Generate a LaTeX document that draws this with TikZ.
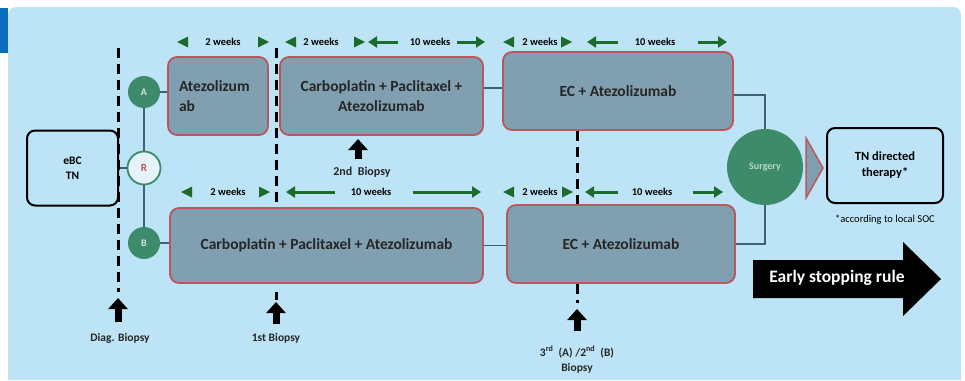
\documentclass[tikz,border=0pt]{standalone}
\usepackage{fontspec}
\setmainfont{Carlito}
\usetikzlibrary{arrows.meta,calc}
\definecolor{bgblue}{HTML}{BDE4F6}
\definecolor{tabblue}{HTML}{0B6DC1}
\definecolor{boxfill}{HTML}{809FB0}
\definecolor{boxborder}{HTML}{B9575A}
\definecolor{arrgreen}{HTML}{1D6B2C}
\definecolor{circgreen}{HTML}{3E8B6C}
\definecolor{linecol}{HTML}{3F6075}
\definecolor{surgtext}{HTML}{B5D9C6}
\newcommand\ltri[2]{\fill[arrgreen] (#1,#2) -- ++(11,-5.5) -- ++(0,11) -- cycle;}
\newcommand\rtri[2]{\fill[arrgreen] (#1,#2) -- ++(-11,-5.5) -- ++(0,11) -- cycle;}
\begin{document}
\begin{tikzpicture}[x=1pt,y=-1pt,
  treat/.style={draw=boxborder, line width=1.8pt, fill=boxfill, rounded corners=9pt,
    font=\bfseries\fontsize{15.5}{20}\selectfont, text=black!85, align=center, inner sep=0pt},
  plain/.style={draw=black, line width=2pt, fill=bgblue, rounded corners=8pt,
    font=\bfseries\fontsize{11.5}{15}\selectfont, align=center, inner sep=0pt},
  armdot/.style={circle, fill=circgreen, minimum size=32pt, inner sep=0pt,
    text=surgtext!60!white, font=\bfseries\fontsize{10}{11}\selectfont},
  conn/.style={draw=linecol, line width=1.6pt},
  dashline/.style={draw=black, line width=3pt, dash pattern=on 10pt off 6pt},
  uparr/.style={draw=black, line width=7pt, -{Triangle[length=11pt,width=19pt]}},
  wk/.style={font=\bfseries\fontsize{10.5}{12}\selectfont, inner sep=0pt},
  wkarr/.style={draw=arrgreen, line width=3pt, -{Triangle[length=9pt,width=11pt]}},
  lbl/.style={font=\bfseries\fontsize{11.5}{13}\selectfont, text=black!85, align=center, inner sep=0pt}
]
\useasboundingbox (0,0) rectangle (965,380);
\fill[white] (0,0) rectangle (965,380);
\fill[bgblue] (8,380) [rounded corners=8pt]-- (8,7) -- (961,7) [sharp corners]-- (961,380) -- cycle;
\fill[tabblue] (0,8) rectangle (8,53);

% dashed timeline lines
\coordinate (d1t) at (118,48);
\coordinate (d1b) at (118,292);
\coordinate (d2t) at (276,48);
\coordinate (d2m) at (276,207);
\coordinate (d2c) at (276,292);
\coordinate (d2d) at (276,300);

% boxes
\node[plain, minimum width=91pt, minimum height=75pt] (ebc) at (72.5,168) {eBC\\TN};
\node[armdot] (A) at (144,92) {A};
\node[circle, draw=circgreen, line width=1.8pt, fill=bgblue!40!white, minimum size=33pt, inner sep=0pt,
  text=boxborder, font=\bfseries\fontsize{11}{12}\selectfont] (R) at (144,168) {R};
\node[armdot] (B) at (144,243) {B};

\node[treat, minimum width=100pt, minimum height=78pt, text width=78pt, align=left] (atezo) at (218,96) {Atezolizum\\ab};
\node[treat, minimum width=203pt, minimum height=78pt] (carboTop) at (381.5,96) {Carboplatin + Paclitaxel +\\Atezolizumab};
\node[treat, minimum width=230pt, minimum height=78pt] (ecTop) at (618,91) {EC + Atezolizumab};
\node[treat, minimum width=313pt, minimum height=75pt] (carboBot) at (326.5,245.5) {Carboplatin + Paclitaxel + Atezolizumab};
\node[treat, minimum width=228pt, minimum height=78pt] (ecBot) at (621,244) {EC + Atezolizumab};

\node[circle, fill=circgreen, minimum size=76pt, inner sep=0pt, text=surgtext,
  font=\bfseries\fontsize{10}{11}\selectfont] (surg) at (765,167) {Surgery};
\filldraw[draw=boxborder, fill=boxfill, line width=1.5pt, line join=miter] (806,138) -- (823,168) -- (806,198) -- cycle;
\node[plain, minimum width=116pt, minimum height=75pt, font=\bfseries\fontsize{12.5}{16}\selectfont] (tn) at (885,165.5) {TN directed\\therapy*};
\node[font=\fontsize{10.5}{12}\selectfont, inner sep=0pt] (soc) at (885,220) {*according to local SOC};

% early stopping rule arrow
\fill[black] (753,260) -- (903,260) -- (903,242) -- (941,279) -- (903,316) -- (903,298) -- (753,298) -- cycle;
\node[text=white, font=\bfseries\fontsize{17.5}{19}\selectfont, inner sep=0pt] (esr) at (837,278) {Early stopping rule};

% connectors
\draw[conn] (ebc.east |- R.west) -- (R.west);
\draw[conn] (A) -- (R);
\draw[conn] (R) -- (B);
\draw[conn] (A.east) -- (A.east -| atezo.west);
\draw[conn] (B.east) -- (B.east -| carboBot.west);
\draw[conn] ($(ecTop.west -| carboTop.east)+(0,-3)$) -- ($(ecTop.west)+(0,-3)$);
\draw[conn] (carboBot.east) -- (carboBot.east -| ecBot.west);
\draw[conn] ([yshift=-4pt]ecTop.east) -| (surg.north);
\draw[conn] (ecBot.east) -| (surg.south);

% dashed lines
\draw[dashline] (d1t) -- (d1b);
\draw[dashline] (d2t) -- (d2m);
\draw[dashline] (d2c) -- (d2d);
\draw[dashline] (ecTop.south -| 577,0) -- (ecBot.north -| 577,0);
\draw[dashline] (ecBot.south -| 577,0) -- (577,303);

% biopsy arrows and labels
\draw[uparr] (118,322) -- (118,298);
\node[lbl] (diag) at (120,338) {Diag. Biopsy};
\draw[uparr] (276,324) -- (276,302);
\node[lbl] (b1) at (276,338) {1st Biopsy};
\draw[uparr] (358,159) -- (358,139);
\node[lbl, font=\bfseries\fontsize{12}{14}\selectfont] (b2) at (362,172) {2nd\ \ Biopsy};
\draw[uparr] (577,331) -- (577,309);
\node[lbl, font=\bfseries\fontsize{11.5}{13}\selectfont] (b3) at (577,352) {3\textsuperscript{rd}\ \ (A) /2\textsuperscript{nd}\ \ (B)};
\node[lbl, font=\bfseries\fontsize{11.5}{13}\selectfont] (b3b) at (577,368) {Biopsy};

% week markers top row
\ltri{177}{42} \node[wk] at (223,42) {2 weeks}; \rtri{269}{42}
\ltri{285}{42} \node[wk] at (321,42) {2 weeks}; \rtri{365}{42}
\draw[wkarr] (398,42) -- (368,42); \node[wk] at (430,42) {10 weeks}; \draw[wkarr] (457,42) -- (485,42);
\ltri{503}{42} \node[wk] at (540,42) {2 weeks}; \rtri{572}{42}
\draw[wkarr] (618,42) -- (587,42); \node[wk] at (655,42) {10 weeks}; \draw[wkarr] (698,42) -- (727,42);

% week markers bottom row
\ltri{181}{192} \node[wk] at (228,192) {2 weeks}; \rtri{270}{192}
\draw[wkarr] (335,192) -- (286,192); \node[wk] at (371,192) {10 weeks}; \draw[wkarr] (413,192) -- (481,192);
\ltri{503}{192} \node[wk] at (540,192) {2 weeks}; \rtri{573}{192}
\draw[wkarr] (618,192) -- (585,192); \node[wk] at (652,192) {10 weeks}; \draw[wkarr] (693,192) -- (723,192);
\end{tikzpicture}
\end{document}
